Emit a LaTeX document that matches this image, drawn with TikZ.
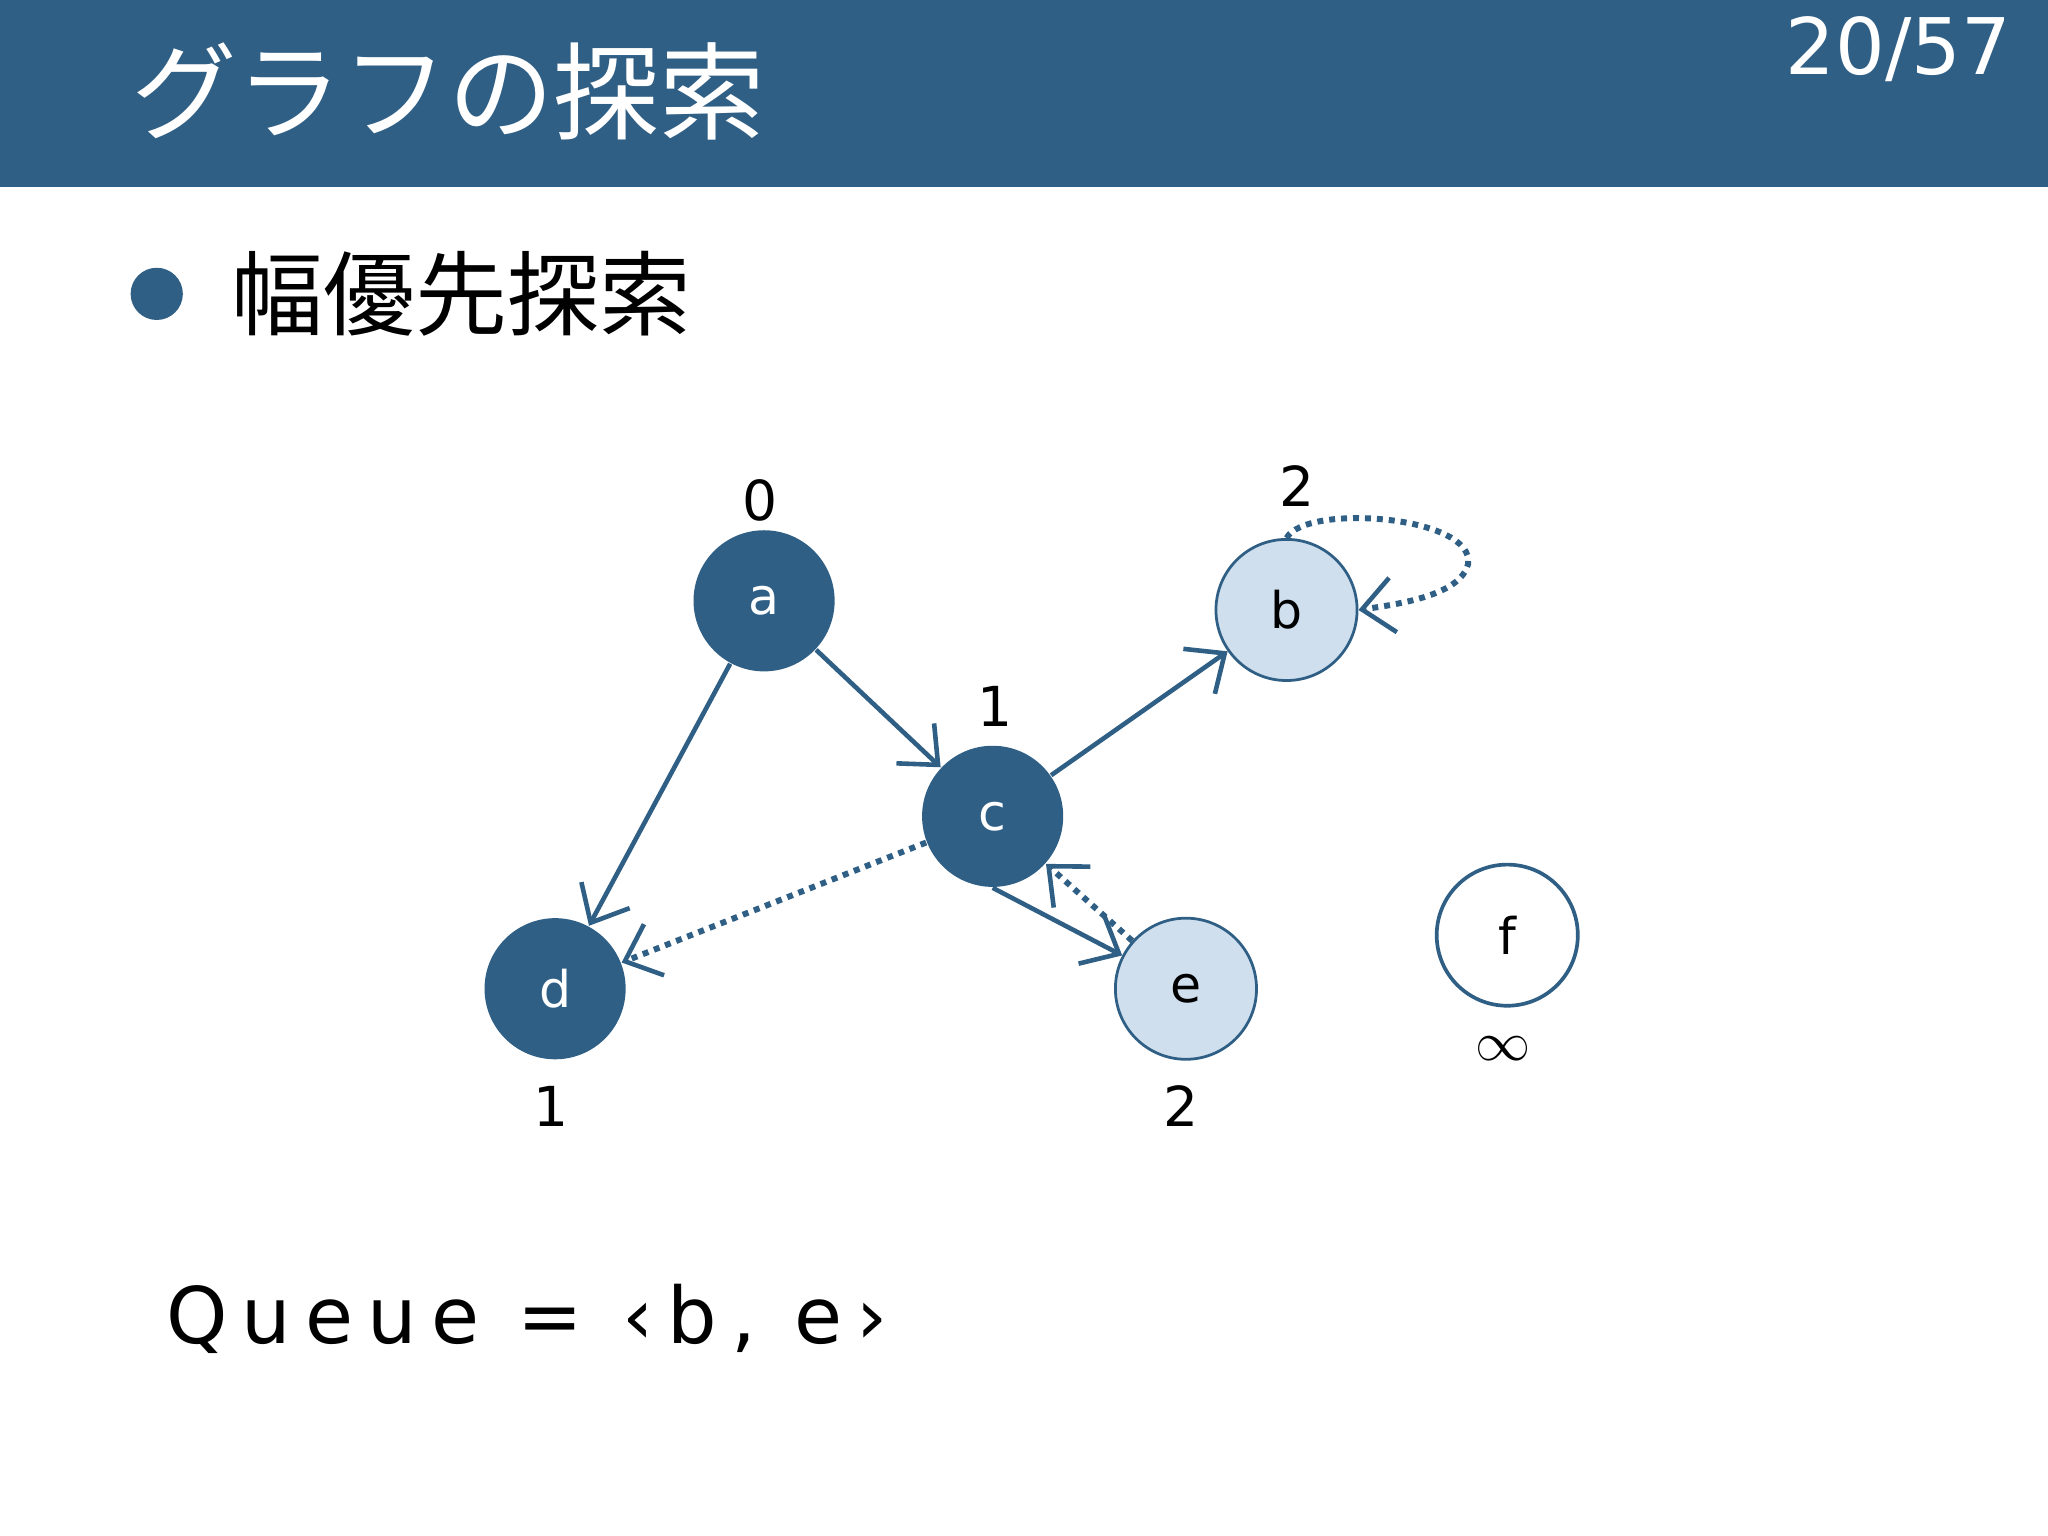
\documentclass[tikz,border=0pt]{standalone}
\usepackage{fontspec}
\setmainfont{DejaVu Sans}
\newfontfamily\jp{Noto Sans CJK JP}
\newfontfamily\queuefont[LetterSpace=18]{DejaVu Sans}
\usetikzlibrary{arrows.meta}
\definecolor{mainblue}{HTML}{305F85}
\definecolor{lightblue}{HTML}{CFDFEE}
\tikzset{
 vtx/.style={circle,minimum size=1.08cm,inner sep=0pt,font=\fontsize{11}{13}\selectfont},
 dark/.style={vtx,fill=mainblue,text=white},
 light/.style={vtx,fill=lightblue,draw=mainblue,line width=0.6pt},
 plain/.style={vtx,fill=white,draw=mainblue,line width=0.8pt},
 num/.style={font=\fontsize{12}{14}\selectfont},
 edge/.style={draw=mainblue,line width=1pt,-{Straight Barb[length=2.4mm,width=4.2mm,line width=1pt]}},
 dotedge/.style={edge,dash pattern=on 1.3pt off 1.3pt,line width=1.3pt},
}
\begin{document}
\begin{tikzpicture}[x=0.01cm,y=-0.01cm]
\useasboundingbox (0,0) rectangle (1568,1176);
\fill[mainblue] (0,0) rectangle (1568,143);
\node[anchor=west,text=white,font=\jp\fontsize{23}{26}\selectfont] (title) at (88,70) {グラフの探索};
\node[anchor=east,text=white,font=\fontsize{17}{20}\selectfont] (page) at (1552,38) {20/57};
\fill[mainblue] (120,225) circle (20);
\node[anchor=west,font=\jp\fontsize{20}{24}\selectfont] (head) at (165,225) {幅優先探索};

\node[dark] (a) at (585,460) {a};
\node[dark] (c) at (760,625) {c};
\node[dark] (d) at (425,757) {d};
\node[light] (b) at (985,467) {b};
\node[light] (e) at (908,757) {e};
\node[plain] (f) at (1154,716) {f};

\node[num] (la) at (582,383) {0};
\node[num] (lc) at (762,541) {1};
\node[num] (lb) at (993,372) {2};
\node[num] (ld) at (422,847) {1};
\node[num] (le) at (904,847) {2};
\node[num] (lf) at (1151,803) {$\infty$};

\draw[edge] (a) -- (c);
\draw[edge] (a) -- (d);
\draw[edge] (c) -- (b);
\draw[edge] (c.south) -- (e);
\draw[dotedge] (c) -- (d);
\draw[dotedge] (e) -- (c);
\draw[dotedge] (b.north) .. controls (1000,385) and (1130,395) .. (1124,432) .. controls (1118,455) and (1075,462) .. (b.east);

\node[anchor=west,font=\queuefont\fontsize{17}{20}\selectfont] (q) at (115,1010) {Queue = ‹b, e›};
\end{tikzpicture}
\end{document}
